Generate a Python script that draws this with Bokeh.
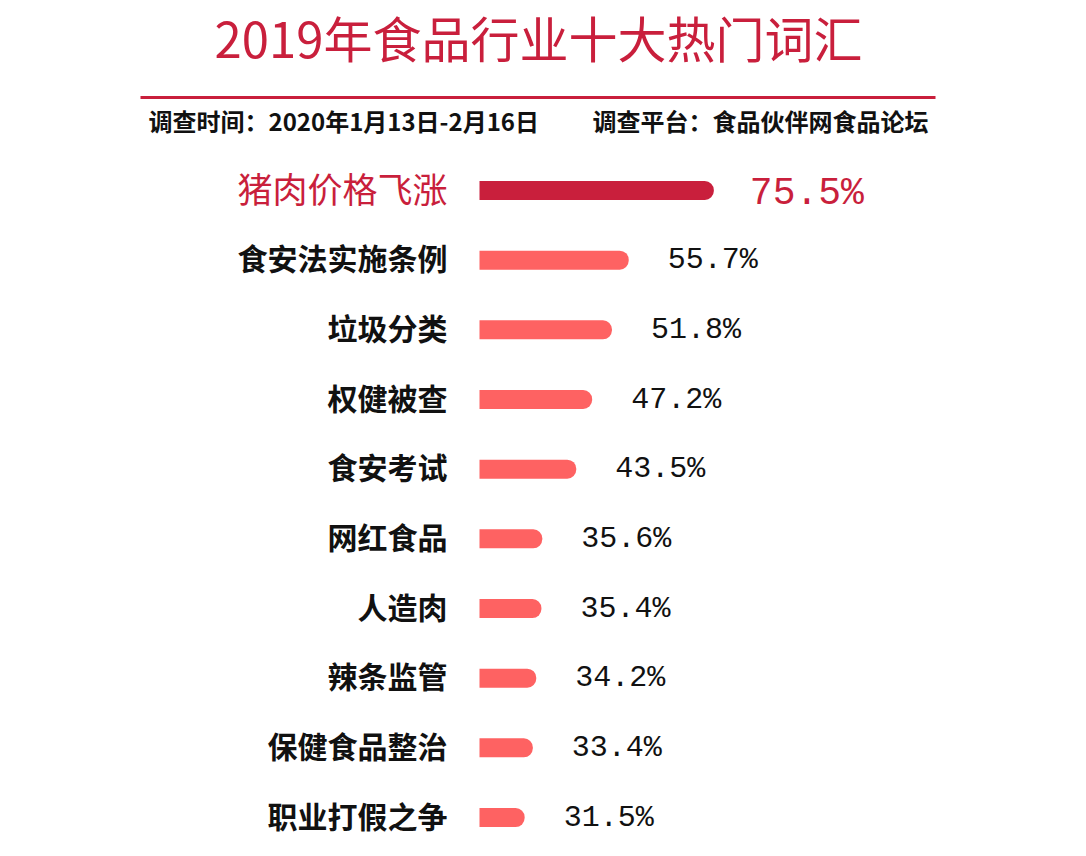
from bokeh.plotting import figure
from bokeh.models import ColumnDataSource, Range1d
from bokeh.core.properties import value
from bokeh.embed import file_html
from bokeh.resources import INLINE

# ---- data ----
title_text = "2019年食品行业十大热门词汇"
subtitle_left = "调查时间：2020年1月13日-2月16日"
subtitle_right = "调查平台：食品伙伴网食品论坛"
categories = ["猪肉价格飞涨", "食安法实施条例", "垃圾分类", "权健被查", "食安考试",
              "网红食品", "人造肉", "辣条监管", "保健食品整治", "职业打假之争"]
values = [75.5, 55.7, 51.8, 47.2, 43.5, 35.6, 35.4, 34.2, 33.4, 31.5]
axis_start = 21  # value where bars begin

# ---- styling / layout ----
RED = "#c91f3c"
LIGHT = "#fe6262"
W, H = 1070, 840
PX_PER_UNIT = 4.3
BAR_LEFT_PX = 479          # pixel where axis_start sits
ROW0_PX = 190              # pixel (from top) of the first row centre
ROW_GAP = 69.67

x_start = axis_start - BAR_LEFT_PX / PX_PER_UNIT
x_end = axis_start + (W - BAR_LEFT_PX) / PX_PER_UNIT
y_top = (0 - ROW0_PX) / ROW_GAP
y_bot = (H - ROW0_PX) / ROW_GAP


def xd(px):
    return x_start + px / PX_PER_UNIT


def yd(px):
    return (px - ROW0_PX) / ROW_GAP


p = figure(width=W, height=H, output_backend="svg", toolbar_location=None,
           x_range=Range1d(x_start, x_end), y_range=Range1d(y_bot, y_top),
           min_border=0, outline_line_color=None, background_fill_color="white")
p.axis.visible = False
p.grid.visible = False

idx = list(range(len(categories)))
labels = [f"{v}%" for v in values]
src_top = ColumnDataSource(dict(y=idx[:1], v=values[:1], cat=categories[:1], lab=labels[:1]))
src_rest = ColumnDataSource(dict(y=idx[1:], v=values[1:], cat=categories[1:], lab=labels[1:]))

bar_h = 19 / ROW_GAP
for src, col in ((src_top, RED), (src_rest, LIGHT)):
    p.hbar(y="y", left=axis_start, right="v", height=bar_h, source=src,
           fill_color=col, line_color=None, border_radius=(0, 9, 9, 0))

# category labels
p.text(x=axis_start, y="y", text="cat", source=src_top, x_offset=-32, y_offset=-3,
       text_align="right", text_baseline="middle", text_color=RED,
       text_font=value("Noto Sans CJK SC"), text_font_size="35px")
p.text(x=axis_start, y="y", text="cat", source=src_rest, x_offset=-32, y_offset=-3,
       text_align="right", text_baseline="middle", text_color="#111111",
       text_font=value("Noto Sans CJK SC"), text_font_size="30px",
       text_font_style="bold")

# value labels
p.text(x="v", y="y", text="lab", source=src_top, x_offset=36, y_offset=3,
       text_align="left", text_baseline="middle", text_color=RED,
       text_font=value("Liberation Mono"), text_font_size="38px")
p.text(x="v", y="y", text="lab", source=src_rest, x_offset=39,
       text_align="left", text_baseline="middle", text_color="#111111",
       text_font=value("Liberation Mono"), text_font_size="30px")

# title, rule, subtitle
p.text(x=[xd(538)], y=[yd(36)], text=[title_text], text_align="center",
       text_baseline="middle", text_color=RED,
       text_font=value("Noto Sans CJK SC"), text_font_size="49px")
p.segment(x0=[xd(140)], x1=[xd(935)], y0=[yd(97)], y1=[yd(97)],
          line_color=RED, line_width=3)
p.text(x=[xd(148)], y=[yd(120)], text=[subtitle_left], text_align="left",
       text_baseline="middle", text_color="#111111",
       text_font=value("Noto Sans CJK SC"), text_font_size="24px",
       text_font_style="bold")
p.text(x=[xd(928)], y=[yd(120)], text=[subtitle_right], text_align="right",
       text_baseline="middle", text_color="#111111",
       text_font=value("Noto Sans CJK SC"), text_font_size="24px",
       text_font_style="bold")

open("out.html", "w").write(file_html(p, INLINE))
